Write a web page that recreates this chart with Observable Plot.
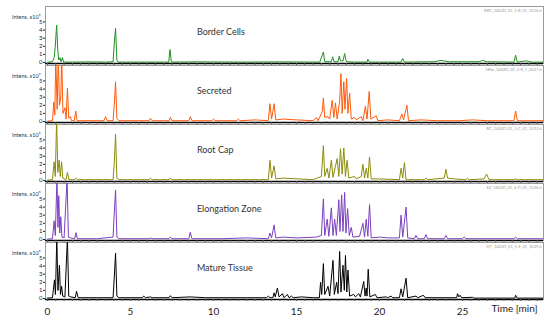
<!DOCTYPE html>
<html>
<head>
<meta charset="utf-8">
<script src="https://cdn.jsdelivr.net/npm/d3@7"></script>
<script src="https://cdn.jsdelivr.net/npm/@observablehq/plot@0.6"></script>
<style>
  html, body { margin: 0; padding: 0; background: #fff; }
  #chart svg { display: block; }
</style>
</head>
<body>
<div id="chart"></div>
<script>
// Panel names (top to bottom), colours and instrument file names
const panels = ["Border Cells", "Secreted", "Root Cap", "Elongation Zone", "Mature Tissue"];
const colors = ["#1f8f1f", "#ff5a0a", "#8c8c0a", "#7b3fbf", "#000000"];
const fileNames = ["BRC_1402D_01_1-B_01_1010.d", "SRbz_1402D_01_2-B_1_2027.d", "RC_1402D_01_3-C_01_1033.d", "EZ_1402D_01_4-D_01_1036.d", "MT_1402D_01_5-E_01_1039.d"];
const xTicks = [0, 5, 10, 15, 20, 25];
const yTicks = [0, 1, 2, 3, 4, 5];

// Chromatogram traces: [time (min), intensity (x10^5)]
const borderCells = [[0,0.05],[0.3,0.1],[0.4,0.6],[0.47,2.0],[0.55,4.6],[0.62,1.5],[0.68,0.3],[0.75,0.6],[0.82,0.1],[0.9,0.6],[0.97,0.05],
 [1.5,0.05],[2.5,0.08],[3.5,0.05],[3.95,0.1],[4.02,2.3],[4.1,4.2],[4.18,0.3],[4.25,0.05],
 [5.5,0.05],[7.3,0.05],[7.38,1.6],[7.46,0.05],[9,0.08],[12,0.05],[14,0.08],[16.4,0.05],[16.55,0.9],[16.62,1.3],[16.7,0.1],
 [17.1,0.1],[17.18,0.7],[17.26,0.1],[17.5,0.1],[17.58,0.8],[17.65,0.2],[17.8,0.2],[17.9,1.1],[18.0,0.1],[18.5,0.05],
 [19.25,0.05],[19.3,0.4],[19.4,0.05],[21.3,0.05],[21.4,0.5],[21.5,0.05],[23.3,0.1],[23.7,0.25],[24.2,0.1],[26.0,0.1],[26.2,0.25],[26.5,0.1],
 [28.1,0.05],[28.2,0.9],[28.3,0.05],[28.8,0.2],[29.2,0.05],[29.9,0.05]];

const secreted = [[0,0.05],[0.3,0.1],[0.38,2.4],[0.44,0.8],[0.5,8],[0.58,1.5],[0.65,8],[0.72,2.0],[0.8,3.0],[0.86,8],[0.93,1.0],
 [1.05,1.7],[1.12,0.3],[1.2,4.1],[1.28,0.4],[1.38,0.6],[1.45,0.1],[1.62,0.1],[1.7,1.3],[1.78,0.1],[2.5,0.1],[3.4,0.1],[3.5,0.6],[3.6,0.1],
 [3.95,0.1],[4.02,2],[4.1,4.9],[4.18,0.4],[4.3,0.1],[5.5,0.1],[6.12,0.1],[6.2,0.4],[6.3,0.1],[7.32,0.1],[7.4,0.5],[7.5,0.1],[8.52,0.1],[8.6,0.6],[8.7,0.1],[9.9,0.1],[10,0.3],[10.1,0.1],
 [11.4,0.1],[11.5,0.3],[11.6,0.1],[12.5,0.2],[13.3,0.1],[13.4,2.2],[13.5,0.3],[13.65,2.2],[13.75,0.2],[14.2,0.3],[15,0.2],[16.0,0.1],
 [16.2,0.5],[16.3,0.1],[16.55,1.2],[16.62,2.9],[16.7,0.5],[16.9,0.6],[17.0,0.3],[17.15,2.6],[17.25,0.5],[17.35,2.3],[17.45,0.3],
 [17.6,2.5],[17.68,5.9],[17.75,1],[17.85,4.9],[17.92,1.5],[18.02,5.3],[18.1,1.0],[18.2,3.5],[18.3,0.3],[18.5,0.5],[18.6,0.2],
 [18.9,0.6],[19.0,0.1],[19.15,1.9],[19.25,0.3],[19.38,3.7],[19.48,0.3],[19.8,0.7],[19.9,0.1],[20.5,0.2],[21.2,0.1],[21.35,0.9],
 [21.45,0.2],[21.65,2.0],[21.75,0.1],[22.5,0.2],[23.5,0.1],[24.8,0.1],[25.6,0.2],[26.5,0.1],[28.1,0.1],[28.2,1.3],[28.3,0.1],[29.9,0.1]];

const rootCap = [[0,0.05],[0.3,0.1],[0.4,2.3],[0.47,0.5],[0.55,7.5],[0.62,1.0],[0.7,2.5],[0.77,0.5],[0.85,2.3],[0.92,0.3],
 [1.12,0.1],[1.2,1.0],[1.3,0.1],[1.62,0.1],[1.7,0.3],[1.8,0.1],[3.0,0.1],[3.95,0.1],[4.02,2.0],[4.1,5.7],[4.18,0.3],[4.3,0.1],[6.12,0.1],[6.2,0.3],[6.3,0.1],[7.32,0.1],[7.4,0.3],[7.5,0.1],
 [10,0.1],[13.3,0.1],[13.4,2.5],[13.5,0.3],[13.65,1.8],[13.75,0.2],[14.2,0.3],[16.0,0.1],[16.5,0.5],[16.62,4.3],[16.7,0.5],
 [16.85,1.5],[16.95,0.3],[17.1,2.5],[17.2,0.4],[17.45,2.7],[17.55,0.5],[17.65,3.9],[17.75,0.8],[17.85,4.0],[17.95,0.5],[18.05,2.5],
 [18.15,0.3],[18.5,0.5],[18.6,0.2],[18.9,0.5],[19.0,2.0],[19.1,0.3],[19.2,1.5],[19.3,0.3],[19.4,2.9],[19.5,0.2],[20,0.2],[21.2,0.1],
 [21.3,1.5],[21.4,0.3],[21.5,2.2],[21.6,0.1],[22.7,0.1],[22.8,0.3],[22.9,0.1],[23.9,0.3],[24.0,1.4],[24.1,0.3],[24.5,0.2],[25.2,0.1],[25.3,0.3],[25.4,0.1],
 [26.3,0.2],[26.45,0.8],[26.6,0.1],[28.1,0.1],[28.2,0.2],[28.3,0.1],[29.9,0.1]];

const elongationZone = [[0,0.05],[0.3,0.1],[0.4,2.3],[0.47,0.5],[0.57,7.5],[0.63,1.5],[0.68,5.4],[0.74,0.8],[0.8,2.8],[0.87,0.3],
 [1.0,0.2],[1.18,7.5],[1.26,0.3],[1.4,0.2],[1.64,0.1],[1.72,0.85],[1.8,0.1],[3.0,0.1],[3.95,0.3],[4.03,3.5],[4.1,6.1],[4.18,0.3],[4.3,0.1],
 [6.12,0.1],[6.2,0.2],[6.3,0.1],[7.32,0.1],[7.4,0.3],[7.5,0.1],[8.52,0.1],[8.6,0.9],[8.7,0.1],[10.5,0.1],[12,0.2],[13.3,0.1],[13.4,0.8],[13.5,0.2],[13.65,1.8],[13.75,0.2],
 [14.2,0.3],[15,0.2],[16.2,0.3],[16.5,0.5],[16.62,5.0],[16.7,0.5],[16.85,2.5],[16.95,0.4],[17.1,3.9],[17.2,0.5],[17.3,2.5],[17.4,0.5],
 [17.55,4.9],[17.62,1.0],[17.72,5.5],[17.8,1.0],[17.9,5.8],[17.98,0.8],[18.08,3.8],[18.18,0.5],[18.3,1.5],[18.4,0.3],[18.8,0.4],
 [19.0,2.0],[19.1,0.3],[19.2,2.5],[19.3,0.4],[19.4,4.3],[19.5,0.2],[20.0,0.3],[20.5,0.2],[21.2,0.2],[21.3,3.0],[21.4,0.3],[21.6,4.0],
 [21.7,0.2],[22.1,0.1],[22.2,0.5],[22.3,0.1],[22.7,0.1],[22.8,0.6],[22.9,0.1],[23.9,0.1],[24.0,0.5],[24.1,0.1],[25.0,0.1],[25.1,0.3],[25.2,0.1],[28.1,0.1],[28.2,0.3],[28.3,0.1],[29.9,0.1]];

const matureTissue = [[0,0.05],[0.3,0.1],[0.42,2.3],[0.48,0.5],[0.56,7.5],[0.63,1.0],[0.72,4.1],[0.78,0.5],[0.85,1.5],[0.92,0.3],
 [1.05,0.2],[1.2,7.5],[1.28,0.3],[1.4,0.2],[1.67,0.1],[1.75,0.9],[1.85,0.1],[3.0,0.1],[3.95,0.1],[4.02,2.5],[4.1,5.6],[4.18,0.3],[4.3,0.1],[5.72,0.1],[5.8,0.3],
 [5.9,0.1],[6.2,0.2],[6.3,0.1],[7.32,0.1],[7.4,0.35],[7.5,0.1],[8.6,0.2],[9.5,0.1],[12,0.1],[13.2,0.1],[13.3,0.3],[13.4,0.1],[13.58,0.1],[13.65,0.7],[13.72,0.2],[13.85,1.3],
 [13.95,0.2],[14.15,0.6],[14.25,0.1],[14.45,0.5],[14.55,0.1],[14.7,0.3],[14.8,0.1],[15.3,0.2],[16.0,0.1],[16.38,0.1],[16.45,2.0],[16.52,0.5],
 [16.62,4.3],[16.7,0.5],[16.9,1.5],[17.0,0.3],[17.2,4.7],[17.28,0.5],[17.42,2.0],[17.5,0.6],[17.6,5.8],[17.68,0.8],[17.8,4.1],
 [17.88,1.0],[17.95,5.3],[18.03,0.8],[18.1,3.5],[18.2,0.3],[18.45,0.5],[18.55,0.2],[18.75,0.6],[18.85,0.2],[19.05,2.1],[19.13,0.3],
 [19.2,1.3],[19.25,0.3],[19.32,3.6],[19.42,0.2],[19.75,0.5],[19.85,0.1],[20.4,0.2],[20.5,0.1],[20.7,0.3],[20.8,0.1],[21.2,0.1],
 [21.3,1.2],[21.4,0.2],[21.6,2.5],[21.7,0.1],[22.2,0.3],[22.3,0.1],[22.65,0.4],[22.75,0.1],[24.65,0.1],[24.7,0.6],[24.78,0.2],
 [24.85,0.4],[24.95,0.1],[25.6,0.15],[25.7,0.05],[28.15,0.05],[28.2,0.4],[28.3,0.05],[29.9,0.05]];

const series = [borderCells, secreted, rootCap, elongationZone, matureTissue];

const xDomain = [-0.12, 29.88];
const yDomain = [-0.12, 6.9];
const labelTime = 9.0;
const labelLevel = 3.8;

const chart = Plot.plot({
  width: 550,
  height: 324,
  marginTop: 5,
  marginBottom: 24,
  marginLeft: 45,
  marginRight: 7,
  style: {fontFamily: "Lato, 'Noto Sans', sans-serif", background: "#fff", color: "#222"},
  x: {domain: xDomain},
  y: {domain: yDomain},
  fy: {domain: panels, paddingInner: 0.03, paddingOuter: 0, axis: null},
  marks: [
    Plot.frame({stroke: "#9a9a9a"}),
    ...panels.map((p, i) => Plot.line(series[i], {
      x: d => d[0], y: d => d[1], fy: () => p,
      stroke: colors[i], strokeWidth: 1, clip: true
    })),
    Plot.ruleY([yDomain[0]], {stroke: "#000", strokeWidth: 1.6}),
    Plot.axisX({interval: 0.5, tickSize: 2, tickFormat: () => "", facetAnchor: null, stroke: "#555"}),
    Plot.axisX({ticks: xTicks, tickSize: 0, tickPadding: 8, fontSize: 10, label: null}),
    Plot.axisY({ticks: yTicks, tickSize: 2, tickPadding: 1, fontSize: 6, tickFormat: "d", label: null}),
    Plot.text(panels, {fy: d => d, frameAnchor: "top-left", text: () => "Intens. x10\u2075",
      textAnchor: "end", dx: -5, dy: 8.5, fontSize: 5.5, fill: "#333"}),
    Plot.text(panels, {fy: d => d, x: () => labelTime, y: () => labelLevel, text: d => d,
      textAnchor: "start", fontSize: 9, fill: "#333"}),
    Plot.text(panels, {fy: d => d, frameAnchor: "top-right", text: (d, i) => fileNames[i],
      textAnchor: "end", dx: -2, dy: 3, fontSize: 4, fill: "#999"}),
    Plot.text(["Time [min]"], {fy: () => panels[4], frameAnchor: "bottom-right", text: d => d,
      textAnchor: "end", dx: -6, dy: 12.5, fontSize: 10, fill: "#222"})
  ]
});
document.getElementById("chart").appendChild(chart);
</script>
</body>
</html>
